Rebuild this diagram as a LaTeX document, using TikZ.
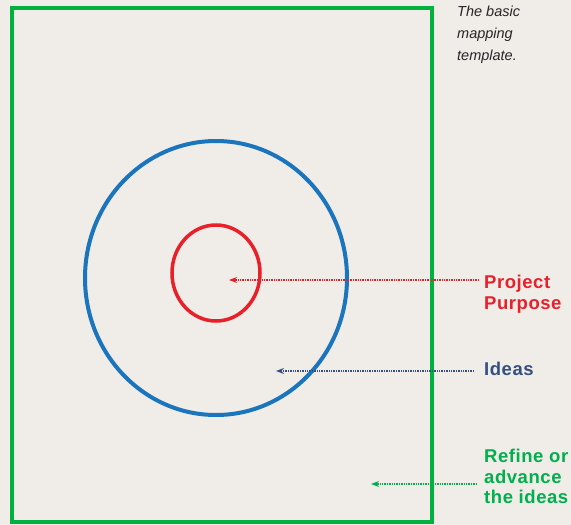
\documentclass[tikz,border=0pt]{standalone}
\usepackage{fontspec}
\setmainfont{Liberation Sans}
\usetikzlibrary{arrows.meta}
\definecolor{bg}{HTML}{F0ECE8}
\definecolor{frameg}{HTML}{00B140}
\definecolor{circb}{HTML}{1B75BC}
\definecolor{ellr}{HTML}{E8202A}
\definecolor{txtb}{HTML}{34507E}
\definecolor{txtg}{HTML}{00B04C}
\definecolor{txtr}{HTML}{E8202A}
\begin{document}
\begin{tikzpicture}[x=1pt,y=-1pt,
  lbl/.style={font=\fontsize{18.5}{20.5}\selectfont\bfseries\addfontfeature{LetterSpace=3}, align=left, inner sep=0pt, anchor=north west},
  pointer/.style={densely dotted, line width=1.4pt, -{Stealth[length=8pt,width=6pt]}}]
\fill[bg] (0,0) rectangle (571,525);
\useasboundingbox (0,0) rectangle (571,525);
\draw[frameg, line width=4pt] (12,8) rectangle (432,522);
\draw[circb, line width=4pt] (216,278) ellipse [x radius=131, y radius=137];
\draw[ellr, line width=3.5pt] (216,273) ellipse [x radius=44, y radius=48];
\node[inner sep=0pt, anchor=north west, align=left, font=\fontsize{14.5}{22}\selectfont\itshape, text=black!85] (title) at (457,6) {The basic\\mapping\\template.};
\node[lbl, text=txtr] (pp) at (484,275) {Project\\Purpose};
\node[lbl, text=txtb] (id) at (484,362) {Ideas};
\node[lbl, text=txtg] (rf) at (484,449) {Refine or\\advance\\the ideas};
\coordinate (rs) at (479,280);
\coordinate (re) at (229,280);
\coordinate (bs) at (474,371);
\coordinate (be) at (276,371);
\coordinate (gs) at (477,484);
\coordinate (ge) at (371,484);
\draw[pointer, ellr] (rs) -- (re);
\draw[pointer, txtb] (bs) -- (be);
\draw[pointer, txtg] (gs) -- (ge);
\end{tikzpicture}
\end{document}
